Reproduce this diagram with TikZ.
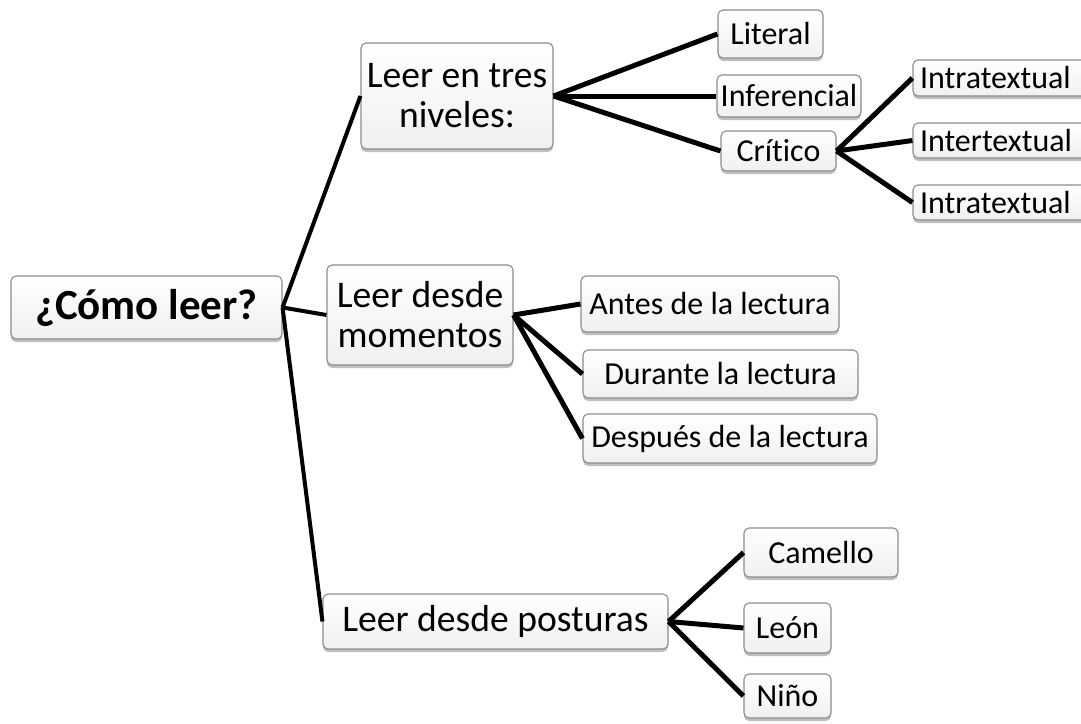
\documentclass[tikz,border=0pt]{standalone}
\usepackage{fontspec}
\setmainfont{Carlito}[Ligatures={NoCommon}]
\usetikzlibrary{shadows}
\definecolor{boxline}{RGB}{140,140,140}
\definecolor{boxbot}{RGB}{240,240,240}
\tikzset{
  box/.style={draw=boxline, line width=1.1pt, rounded corners=5pt,
    top color=white, bottom color=boxbot, inner sep=0pt, align=center,
    drop shadow={shadow xshift=0pt, shadow yshift=-3pt, opacity=0.25, fill=black}},
  small/.style={box, font=\fontsize{32}{35}\selectfont},
  mid/.style={box, font=\fontsize{37.6}{40}\selectfont},
  rootbox/.style={box, font=\bfseries\fontsize{43}{46}\selectfont},
  link/.style={line width=5pt, black},
  rootlink/.style={line width=4pt, black},
}
\begin{document}
\begin{tikzpicture}[x=1pt,y=-1pt]
\useasboundingbox (0,0) rectangle (1081,723);
% root
\node[rootbox, minimum width=271pt, minimum height=63pt] (root) at (146.5,307.5) {¿Cómo leer?};
% level 1
\node[mid, minimum width=192pt, minimum height=106pt] (n1) at (457,96) {Leer en tres\\niveles:};
\node[mid, minimum width=186pt, minimum height=100pt] (n2) at (420,315) {Leer desde\\momentos};
\node[mid, minimum width=345pt, minimum height=55pt] (n3) at (495.5,621.5) {Leer desde posturas};
% level 2 under n1
\node[small, minimum width=105pt, minimum height=48pt] (lit) at (770.5,34) {Literal};
\node[small, minimum width=144pt, minimum height=42pt] (inf) at (789,96) {Inferencial};
\node[small, minimum width=115pt, minimum height=40pt] (cri) at (778.5,151) {Crítico};
% level 3 under cri
\node[small, minimum width=177pt, minimum height=36pt, text width=163pt, align=left] (ia) at (1001.5,78) {Intratextual};
\node[small, minimum width=177pt, minimum height=35pt, text width=163pt, align=left] (ie) at (1001.5,140.5) {Intertextual};
\node[small, minimum width=177pt, minimum height=35pt, text width=163pt, align=left] (ib) at (1001.5,202.5) {Intratextual};
% level 2 under n2
\node[small, minimum width=258pt, minimum height=56pt] (ant) at (710,304) {Antes de la lectura};
\node[small, minimum width=275pt, minimum height=48pt] (dur) at (720.5,374) {Durante la lectura};
\node[small, minimum width=294pt, minimum height=49pt] (des) at (730,438.5) {Después de la lectura};
% level 2 under n3
\node[small, minimum width=154pt, minimum height=49pt] (cam) at (821,552.5) {Camello};
\node[small, minimum width=87pt, minimum height=50pt] (leo) at (787.5,628) {León};
\node[small, minimum width=87pt, minimum height=44pt] (nin) at (787.5,696) {Niño};
% connectors
\draw[rootlink] (root.east) -- (n1.west);
\draw[rootlink] (root.east) -- (n2.west);
\draw[rootlink] (root.east) -- (n3.west);
\draw[link] (n1.east) -- (lit.west);
\draw[link] (n1.east) -- (inf.west);
\draw[link] (n1.east) -- (cri.west);
\draw[link] (cri.east) -- (ia.west);
\draw[link] (cri.east) -- (ie.west);
\draw[link] (cri.east) -- (ib.west);
\draw[link] (n2.east) -- (ant.west);
\draw[link] (n2.east) -- (dur.west);
\draw[link] (n2.east) -- (des.west);
\draw[link] (n3.east) -- (cam.west);
\draw[link] (n3.east) -- (leo.west);
\draw[link] (n3.east) -- (nin.west);
\end{tikzpicture}
\end{document}
